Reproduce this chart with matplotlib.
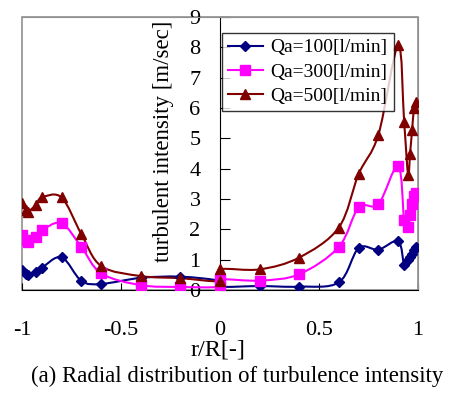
import matplotlib
matplotlib.use('Agg')
import matplotlib.pyplot as plt
from matplotlib.path import Path
from matplotlib.patches import PathPatch, Rectangle
from matplotlib.lines import Line2D

plt.rcParams['font.family'] = ['Liberation Serif', 'DejaVu Serif']

# r/R positions (the centre is measured twice, once from each side)
r_pos = [-1.0, -0.98, -0.97, -0.93, -0.9, -0.8, -0.7, -0.6, -0.4, -0.2, 0.0,
         0.0, 0.2, 0.4, 0.6, 0.7, 0.8, 0.9, 0.93, 0.95, 0.96, 0.97, 0.98, 0.99]

qa100 = [0.66, 0.52, 0.48, 0.58, 0.73, 1.08, 0.30, 0.20, 0.40, 0.44, 0.30,
         0.11, 0.13, 0.11, 0.25, 1.38, 1.33, 1.61, 0.82, 0.99, 1.10, 1.20, 1.32, 1.42]
qa300 = [1.81, 1.64, 1.59, 1.75, 1.97, 2.20, 1.42, 0.55, 0.16, 0.10, 0.11,
         0.35, 0.31, 0.52, 1.42, 2.72, 2.83, 4.10, 2.30, 2.08, 2.47, 2.85, 3.10, 3.20]
qa500 = [2.88, 2.63, 2.58, 2.80, 3.05, 3.05, 1.84, 0.79, 0.46, 0.39, 0.30,
         0.68, 0.68, 1.07, 2.06, 3.82, 5.12, 8.07, 5.54, 3.80, 4.50, 5.26, 6.00, 6.20]

series = [
    ('Qa=100[l/min]', qa100, '#000080', 'D', 5.3),
    ('Qa=300[l/min]', qa300, '#FF00FF', 's', 6.8),
    ('Qa=500[l/min]', qa500, '#800000', '^', 7.8),
]


def smooth_path(x, y):
    # Excel-like smoothed line: cubic bezier through every point
    n = len(x)
    verts = [(x[0], y[0])]
    codes = [Path.MOVETO]
    for i in range(n - 1):
        a = i - 1 if i > 0 else i
        b = i + 2 if i + 2 < n else i + 1
        c1 = (x[i] + (x[i + 1] - x[a]) / 6, y[i] + (y[i + 1] - y[a]) / 6)
        c2 = (x[i + 1] - (x[b] - x[i]) / 6, y[i + 1] - (y[b] - y[i]) / 6)
        verts += [c1, c2, (x[i + 1], y[i + 1])]
        codes += [Path.CURVE4] * 3
    return Path(verts, codes)


fig = plt.figure(figsize=(4.55, 3.94), dpi=100)
ax = fig.add_axes([22 / 455, 1 - 290 / 394, 396 / 455, 273 / 394])

handles = []
for label, vals, col, mk, ms in series:
    ax.add_patch(PathPatch(smooth_path(r_pos, vals), fill=False,
                           edgecolor=col, lw=1.5, zorder=2))
    ax.plot(r_pos, vals, ls='none', marker=mk, ms=ms, color=col, zorder=3)
    handles.append(Line2D([], [], color=col, lw=1.5, marker=mk, ms=ms))

ax.set_xlim(-1, 1)
ax.set_ylim(0, 9)
ax.set_xticks([-1, -0.5, 0, 0.5, 1])
ax.set_xticklabels(['-1', '-0.5', '0', '0.5', '1'])
ax.set_yticks(range(0, 10))

for s in ['top', 'right']:
    ax.spines[s].set_color('#909090')
ax.spines['left'].set_position(('data', 0))
ax.spines['left'].set_color('black')
ax.spines['bottom'].set_color('black')
ax.add_patch(Rectangle((0, 0), 1, 1, transform=ax.transAxes, fill=False,
                       edgecolor='#909090', lw=1.2, zorder=0, clip_on=False))

ax.tick_params(axis='x', direction='in', length=5, pad=22, labelsize=16)
ax.tick_params(axis='y', direction='in', length=7, pad=14, labelsize=16)

fig.text(163 / 455, 1 - 141 / 394, 'turbulent intensity [m/sec]',
         rotation=90, ha='center', va='center', fontsize=16.5)
fig.text(218 / 455, 1 - 350 / 394, 'r/R[-]', ha='center', va='center', fontsize=17.5)
fig.text(31 / 455, 1 - 376 / 394, '(a) Radial distribution of turbulence intensity',
         ha='left', va='center', fontsize=16.4)

leg = ax.legend(handles, [s[0] for s in series], loc='upper left',
                bbox_to_anchor=(200 / 396, 1 - 16 / 273), fontsize=14,
                frameon=True, fancybox=False, edgecolor='black',
                handlelength=1.8, handletextpad=0.4, borderpad=0.3,
                labelspacing=0.35, borderaxespad=0)
leg.get_frame().set_linewidth(1.0)

fig.savefig('out.png', dpi=100)
